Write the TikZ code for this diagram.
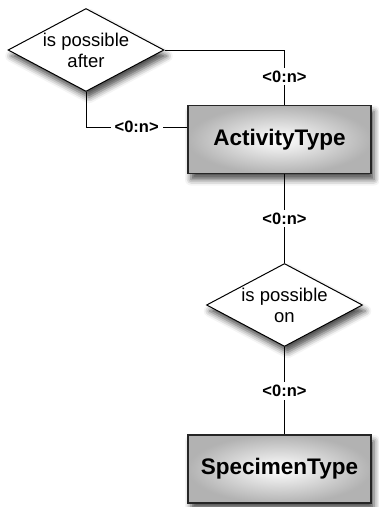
\documentclass[tikz,border=0pt]{standalone}
\usepackage{fontspec}
\setmainfont{Liberation Sans}
\usetikzlibrary{shapes.geometric,shadows.blur}
\begin{document}
\begin{tikzpicture}[x=1pt,y=-1pt,
  softshadow/.style={blur shadow={shadow xshift=3pt, shadow yshift=-6pt,
      shadow blur radius=6pt, shadow opacity=70}},
  entity/.style={rectangle, draw=black!85, line width=1.2pt,
      minimum width=183pt, minimum height=68pt, inner sep=0pt,
      shading=radial, inner color=white, outer color=black!30,
      softshadow, font=\fontsize{22.5}{26}\selectfont\bfseries},
  relation/.style={diamond, shape aspect=1.9, draw=black, line width=1pt,
      fill=white, minimum width=156pt, minimum height=83pt, inner sep=-8pt,
      align=center, softshadow, font=\fontsize{18.5}{21}\selectfont},
  link/.style={draw=black, line width=1pt},
  card/.style={fill=white, inner xsep=4pt, inner ysep=3pt,
      font=\fontsize{16.5}{18}\selectfont\bfseries},
]
\useasboundingbox (0,0) rectangle (379,507);

% entities and relationships
\node[relation] (after) at (86,50) {is possible\\after};
\node[entity] (activity) at (279.5,139.5) {ActivityType};
\node[relation] (on) at (284.5,305) {is possible\\on};
\node[entity] (specimen) at (279.5,469) {SpecimenType};

% entry point of the self-relationship on the left side of ActivityType
\coordinate (activityin) at ([yshift=12.5pt]activity.west);

% connectors with cardinalities
\draw[link] (after.east) -| node[card, pos=0.74] {<0:n>} (activity.north -| on.north);
\draw[link] (after.south) |- node[card, pos=0.75] {<0:n>} (activityin);
\draw[link] (activity.south -| on.north) -- node[card] {<0:n>} (on.north);
\draw[link] (on.south) -- node[card] {<0:n>} (specimen.north -| on.south);
\end{tikzpicture}
\end{document}
